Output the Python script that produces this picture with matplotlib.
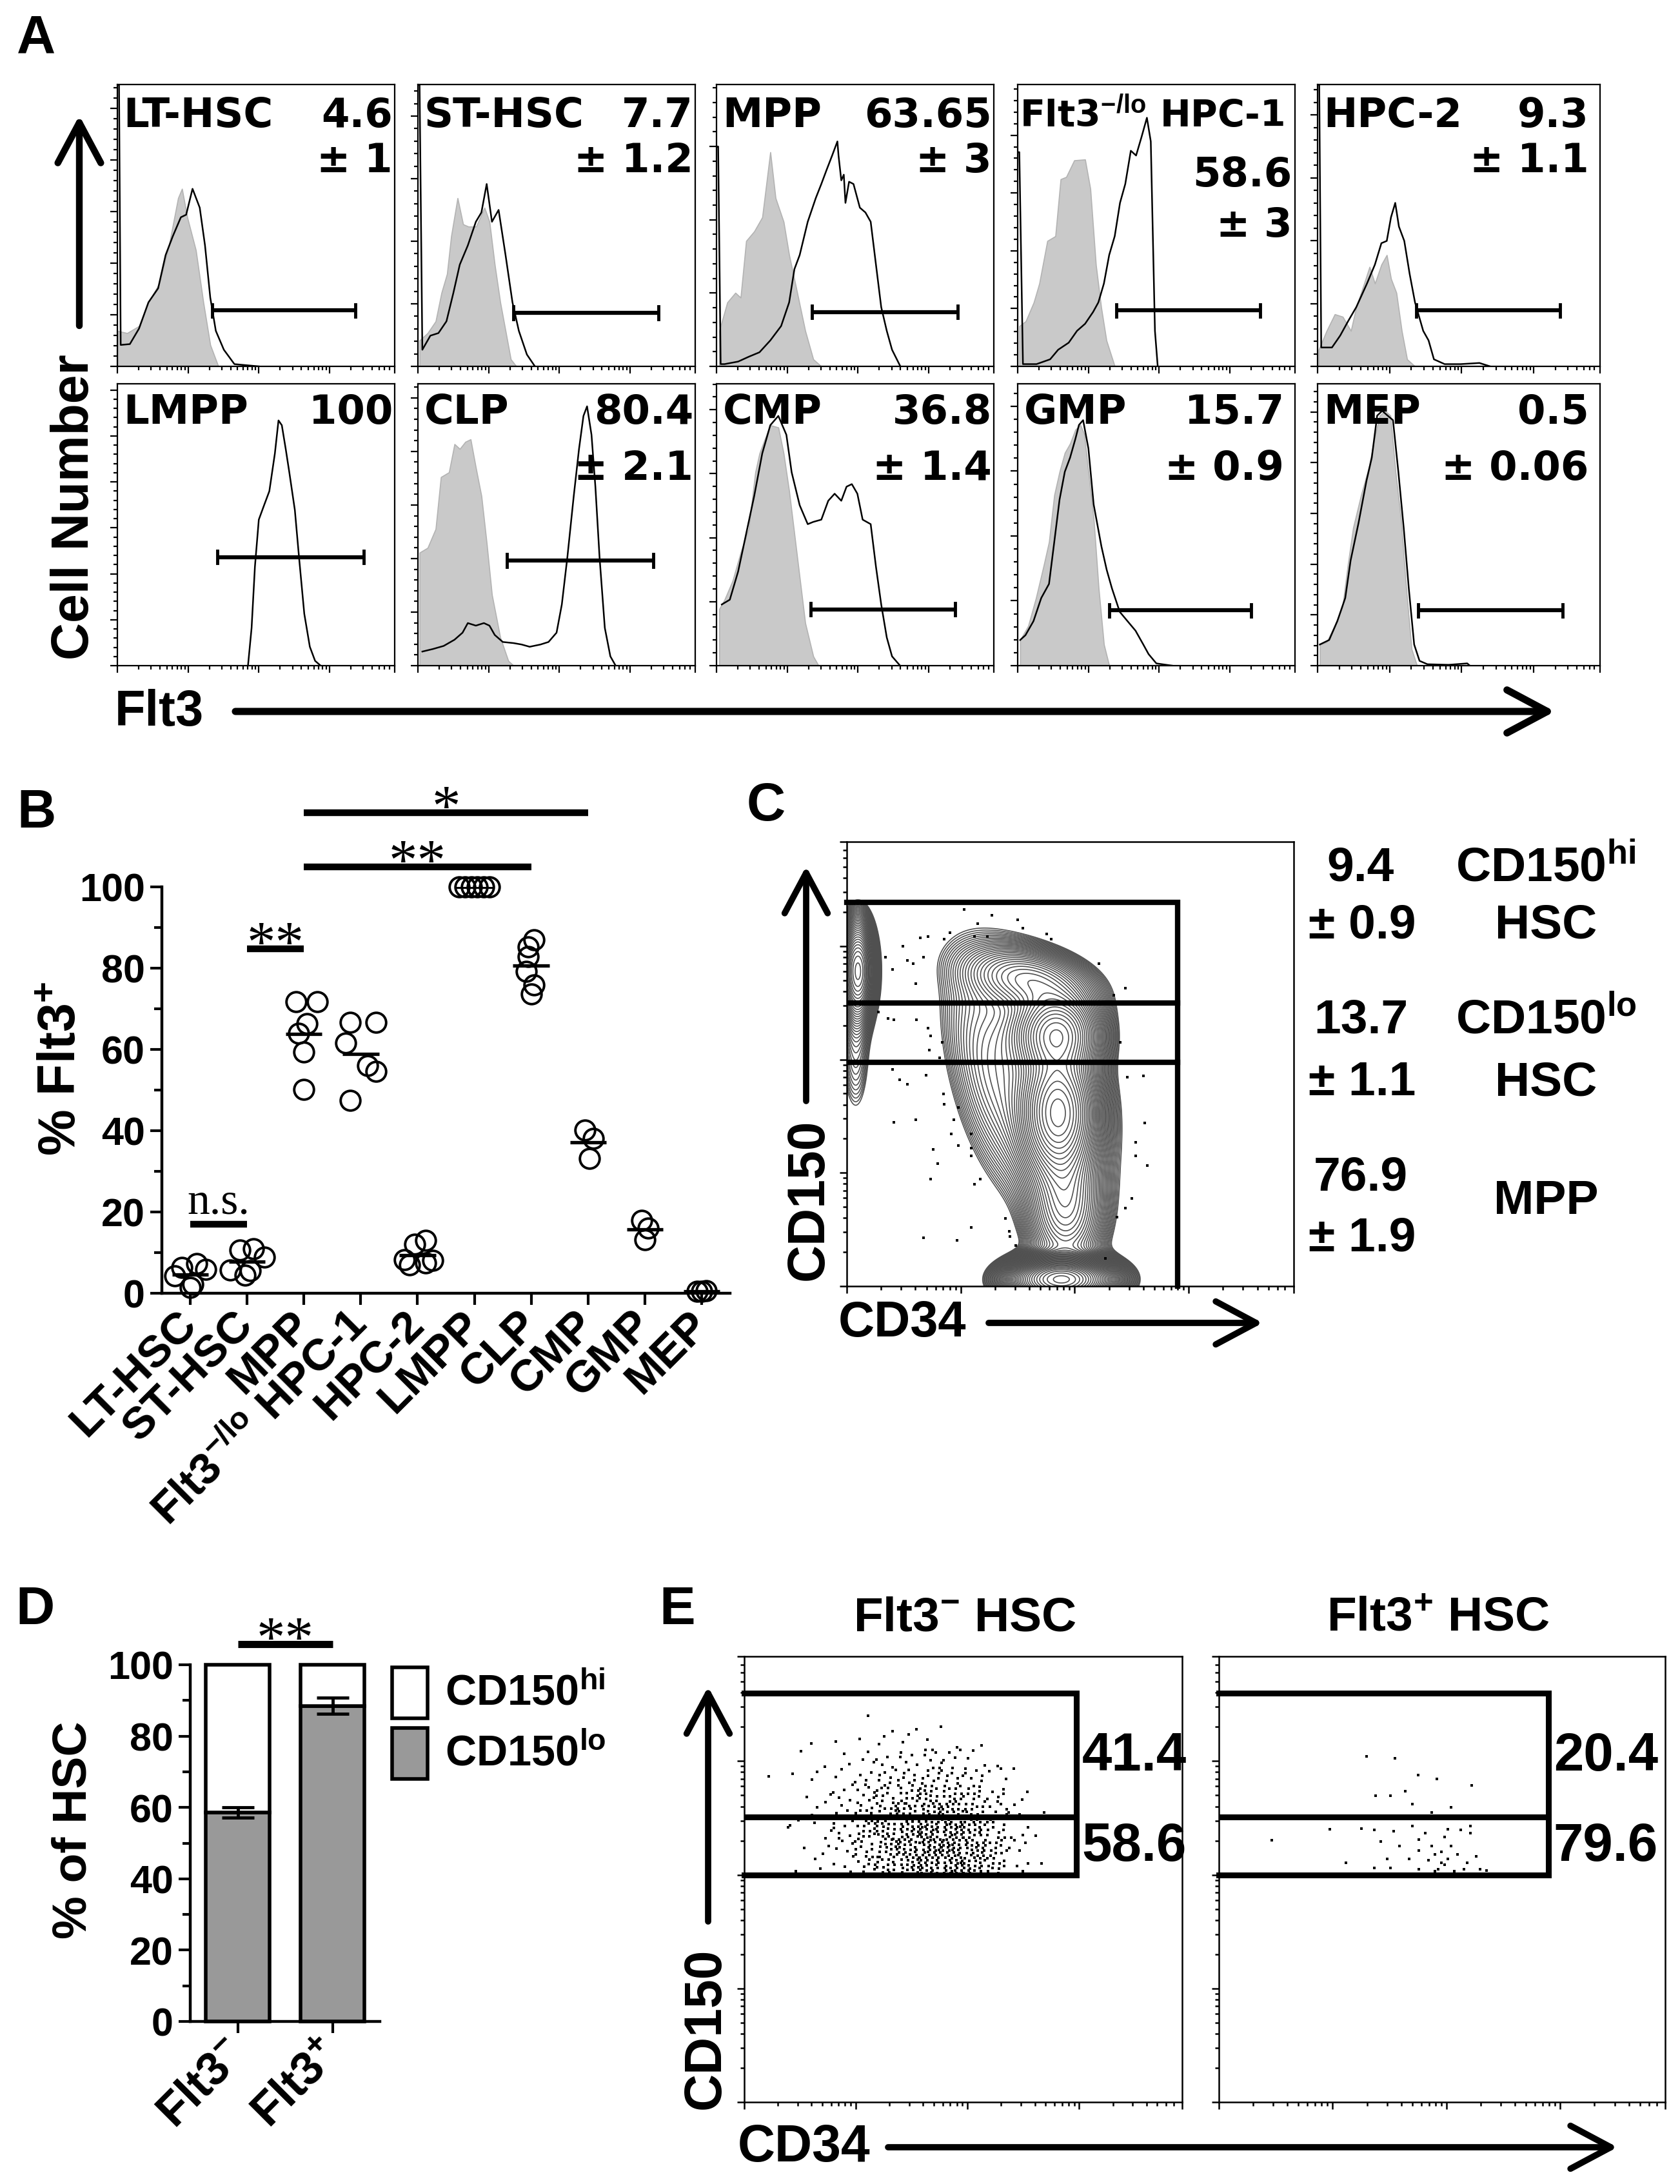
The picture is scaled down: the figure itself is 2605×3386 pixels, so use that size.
import numpy as np
import matplotlib
matplotlib.use("Agg")
import matplotlib.pyplot as plt
from matplotlib import font_manager
from matplotlib.patches import FancyArrowPatch, Rectangle

# ---------------- data ----------------
# Panel A: Flt3 histograms, x = channel position (% of scale), y = % of modal
a_names = ['LT-HSC', 'ST-HSC', 'MPP', 'Flt3$^{-/lo}$ HPC-1', 'HPC-2',
           'LMPP', 'CLP', 'CMP', 'GMP', 'MEP']
a_pct = ['4.6', '7.7', '63.65', '58.6', '9.3', '100', '80.4', '36.8', '15.7', '0.5']
a_sem = ['± 1', '± 1.2', '± 3', '± 3', '± 1.1', '', '± 2.1', '± 1.4', '± 0.9', '± 0.06']

lt_ctrl_x = [0, 3.5, 7.8, 11.2, 15.1, 18.6, 21.9, 23.3, 25.2, 28.3, 31.0, 33.5, 36.4]
lt_ctrl_y = [12.6, 11.8, 14.3, 22.7, 29.4, 42.9, 59.7, 63.0, 52.9, 41.2, 22.7, 7.6, 0]
lt_samp_x = [0.3, 0.6, 1.2, 4.5, 7.8, 11.2, 14.7, 17.4, 20.0, 22.9, 24.8, 27.1, 29.7,
             31.6, 33.5, 35.5, 38.4, 42.2, 51.0]
lt_samp_y = [100, 100, 7.6, 7.9, 13.4, 22.7, 27.7, 39.5, 46.2, 52.9, 53.8, 63.0, 56.3,
             42.9, 24.4, 12.6, 5.9, 0.8, 0]

st_ctrl_x = [0.6, 3.5, 6.4, 8.5, 10.5, 12.0, 14.3, 16.3, 18.2, 21.0, 24.0, 25.8, 27.7,
             29.7, 31.6, 33.5, 35.5]
st_ctrl_y = [9.2, 11.8, 16.0, 26.1, 32.8, 46.2, 59.7, 50.4, 49.6, 49.6, 56.3, 51.3, 36.1,
             22.7, 12.6, 2.5, 0]
st_samp_x = [0.3, 0.6, 1.6, 4.5, 7.4, 10.3, 12.8, 15.1, 18.0, 20.9, 22.9, 24.8, 26.7,
             29.1, 31.6, 34.1, 36.4, 39.3, 42.2]
st_samp_y = [100, 100, 5.9, 10.9, 11.8, 16.0, 26.1, 36.1, 42.9, 51.3, 54.6, 64.7, 51.3,
             55.5, 39.5, 22.7, 12.6, 4.2, 0]

mpp_ctrl_x = [1.0, 3.9, 6.8, 8.7, 10.7, 13.6, 16.5, 19.4, 21.3, 24.2, 26.2, 29.1, 32.0,
              34.9, 37.8]
mpp_ctrl_y = [12.6, 22.7, 26.1, 24.4, 44.5, 47.9, 52.9, 76.0, 59.7, 51.3, 39.5, 26.1,
              12.6, 2.5, 0]
mpp_samp_x = [0.3, 0.6, 1.5, 2.9, 7.8, 11.6, 15.5, 19.4, 23.3, 26.2, 28.1, 30.0, 32.9,
              35.8, 37.8, 39.7, 41.7, 43.6, 44.0, 45.0, 45.9, 46.5, 47.8, 49.4, 51.7,
              53.7, 55.6, 57.5, 59.4, 61.4, 63.3, 66.3]
mpp_samp_y = [78, 78, 0.8, 0.8, 1.7, 3.4, 5.0, 9.2, 14.3, 22.7, 34.5, 39.5, 51.3, 59.7,
              64.7, 69.7, 74.8, 79.8, 74.8, 66.0, 68.0, 58.0, 65.5, 64.7, 56.3, 54.6,
              51.3, 36.1, 21.0, 12.6, 5.9, 0]

hpc1_ctrl_x = [0.6, 2.9, 5.8, 7.8, 10.7, 13.6, 15.5, 17.5, 20.4, 24.3, 26.2, 28.2, 30.1,
               32.0, 35.0]
hpc1_ctrl_y = [14.3, 16.0, 22.7, 29.4, 44.5, 46.2, 66.4, 67.2, 73.1, 73.4, 63.0, 36.1,
               21.0, 9.2, 0]
hpc1_samp_x = [0.3, 0.6, 1.9, 6.8, 11.7, 14.6, 18.4, 21.4, 24.3, 27.2, 29.1, 31.1, 33.0,
               35.0, 36.9, 38.8, 40.8, 42.7, 44.7, 46.6, 48.0, 49.5, 50.5]
hpc1_samp_y = [76, 76, 0.8, 0.8, 2.5, 5.9, 8.4, 12.6, 15.1, 19.3, 22.7, 29.4, 39.5, 46.2,
               58.0, 64.7, 76.5, 74.8, 81.5, 88.2, 79.8, 12.6, 0]

hpc2_ctrl_x = [0.4, 3.2, 6.1, 8.9, 11.8, 13.7, 16.5, 18.4, 20.3, 22.6, 24.5, 26.0, 27.9,
               29.8, 31.7, 34.5]
hpc2_ctrl_y = [5.9, 12.6, 18.5, 17.6, 12.6, 21.0, 29.4, 35.3, 29.4, 36.1, 39.5, 31.1,
               26.1, 12.6, 2.5, 0]
hpc2_samp_x = [0.3, 0.6, 1.3, 5.1, 8.0, 10.8, 13.7, 17.5, 20.3, 22.6, 24.5, 26.0, 27.5,
               28.8, 30.7, 32.6, 34.5, 37.4, 39.3, 41.2, 45.0, 50.7, 57.3, 61.1]
hpc2_samp_y = [100, 100, 6.7, 6.7, 10.9, 16.0, 21.0, 29.4, 36.1, 43.7, 44.5, 52.9, 58.0,
               49.6, 44.5, 32.8, 22.7, 12.6, 9.2, 2.5, 0.8, 0.8, 1.2, 0]

lmpp_samp_x = [47.1, 48.4, 49.6, 51.0, 52.9, 54.8, 56.8, 58.1, 59.3, 60.7, 62.0, 64.0,
               65.5, 67.4, 69.4, 71.3, 73.3]
lmpp_samp_y = [0, 13.4, 35.1, 51.8, 56.9, 61.9, 75.3, 87.0, 85.3, 76.9, 68.6, 55.2,
               38.5, 18.4, 6.7, 1.7, 0]

clp_ctrl_x = [0.6, 3.5, 6.4, 8.3, 11.2, 13.2, 15.1, 17.1, 19.0, 20.9, 22.9, 24.8, 26.7,
              29.7, 32.6, 34.5]
clp_ctrl_y = [40.1, 41.8, 48.5, 66.9, 68.6, 78.6, 76.9, 79.4, 80.3, 70.2, 60.2, 43.5,
              25.1, 10.0, 1.7, 0]
clp_samp_x = [1.6, 5.4, 9.3, 13.2, 16.1, 18.0, 20.9, 23.8, 25.8, 27.7, 30.6, 34.5, 37.4,
              40.3, 44.2, 47.1, 50.0, 51.9, 53.9, 56.2, 58.1, 59.7, 61.0, 62.6, 64.0,
              65.5, 67.4, 69.4, 71.3]
clp_samp_y = [5.0, 5.9, 7.0, 9.2, 11.7, 15.1, 14.2, 15.1, 14.2, 10.9, 8.4, 8.0, 7.5, 6.7,
              7.5, 8.4, 11.7, 21.7, 38.5, 60.2, 76.9, 88.6, 92.0, 81.9, 63.5, 38.5,
              13.4, 3.3, 0]

cmp_ctrl_x = [1.0, 2.9, 5.8, 8.7, 11.6, 14.0, 15.5, 17.4, 19.4, 22.3, 24.2, 26.2, 29.1,
              32.0, 34.9, 36.8]
cmp_ctrl_y = [20.1, 23.4, 30.1, 40.1, 48.5, 68.6, 75.3, 80.3, 85.3, 84.5, 75.3, 61.9,
              38.5, 15.1, 3.3, 0]
cmp_samp_x = [1.9, 4.8, 7.8, 10.7, 13.6, 16.5, 19.4, 22.3, 25.2, 27.1, 30.0, 32.9, 34.9,
              37.8, 40.3, 42.6, 45.0, 46.9, 48.8, 50.8, 52.7, 55.6, 57.5, 59.4, 61.4,
              63.3, 66.2]
cmp_samp_y = [21.7, 23.4, 33.4, 46.8, 60.2, 75.3, 85.3, 88.6, 81.9, 68.6, 56.9, 50.2,
              51.0, 51.8, 58.5, 61.0, 58.5, 63.5, 64.4, 61.0, 51.8, 50.2, 35.1, 21.7,
              10.0, 3.3, 0]

gmp_ctrl_x = [0.9, 3.8, 6.6, 9.4, 11.3, 13.2, 15.1, 17.0, 18.9, 20.8, 22.6, 24.0, 25.5,
              27.4, 29.2, 31.1, 33.0]
gmp_ctrl_y = [9.1, 14.1, 24.0, 35.6, 43.9, 60.5, 68.8, 75.5, 78.8, 83.7, 85.4, 82.1,
              68.8, 52.2, 27.4, 7.5, 0]
gmp_samp_x = [0.9, 2.8, 5.7, 8.5, 11.3, 13.2, 15.1, 17.0, 18.9, 20.8, 22.1, 23.6, 25.5,
              27.4, 30.2, 32.1, 34.0, 36.8, 39.6, 42.5, 45.3, 47.2, 50.0, 55.7]
gmp_samp_y = [9.1, 10.8, 15.8, 24.0, 29.0, 43.9, 58.9, 68.8, 73.8, 80.4, 85.4, 87.1,
              77.1, 57.2, 42.3, 34.0, 27.4, 19.1, 15.8, 12.4, 7.5, 4.1, 0.8, 0]

mep_ctrl_x = [0.8, 3.2, 6.0, 8.8, 10.7, 12.6, 15.4, 18.2, 20.1, 22.0, 23.9, 25.8, 27.6,
              29.5, 31.4, 33.3, 35.2]
mep_ctrl_y = [7.5, 8.3, 14.1, 20.7, 35.6, 48.9, 60.5, 70.5, 80.4, 88.7, 90.4, 88.7,
              68.8, 52.2, 27.4, 5.8, 0]
mep_samp_x = [0.8, 4.1, 7.0, 9.8, 11.7, 14.5, 17.3, 19.2, 21.1, 22.9, 24.8, 26.7, 28.6,
              30.5, 32.3, 34.2, 36.1, 38.9, 46.4, 53.0, 53.9]
mep_samp_y = [7.5, 9.1, 15.8, 24.0, 37.3, 50.6, 65.5, 73.8, 88.7, 90.4, 88.7, 87.1,
              68.8, 48.9, 27.4, 7.5, 1.7, 0.5, 0.3, 0.8, 0]

a_ctrl_x = [lt_ctrl_x, st_ctrl_x, mpp_ctrl_x, hpc1_ctrl_x, hpc2_ctrl_x,
            None, clp_ctrl_x, cmp_ctrl_x, gmp_ctrl_x, mep_ctrl_x]
a_ctrl_y = [lt_ctrl_y, st_ctrl_y, mpp_ctrl_y, hpc1_ctrl_y, hpc2_ctrl_y,
            None, clp_ctrl_y, cmp_ctrl_y, gmp_ctrl_y, mep_ctrl_y]
a_samp_x = [lt_samp_x, st_samp_x, mpp_samp_x, hpc1_samp_x, hpc2_samp_x,
            lmpp_samp_x, clp_samp_x, cmp_samp_x, gmp_samp_x, mep_samp_x]
a_samp_y = [lt_samp_y, st_samp_y, mpp_samp_y, hpc1_samp_y, hpc2_samp_y,
            lmpp_samp_y, clp_samp_y, cmp_samp_y, gmp_samp_y, mep_samp_y]

# Flt3+ gate (marker) per histogram
a_gate_lo = [34.1, 34.5, 34.5, 35.5, 34.9, 36.0, 32.0, 33.9, 33.0, 35.7]
a_gate_hi = [85.9, 86.8, 86.9, 87.4, 85.8, 88.8, 84.9, 86.0, 84.3, 86.8]
a_gate_y = [19.8, 19.0, 19.3, 19.8, 19.8, 38.5, 37.3, 20.0, 19.6, 19.6]
a_ystep = [18.3, 22.2, 26.0, 20.5, 22.3, 16.3, 19.0, 22.7, 23.0, 18.0]

# Panel B: % Flt3+ per population (individual mice)
b_cats = ['LT-HSC', 'ST-HSC', 'MPP', 'Flt3$^{-/lo}$ HPC-1', 'HPC-2',
          'LMPP', 'CLP', 'CMP', 'GMP', 'MEP']
b_vals = [
    [4.3, 6.4, 1.5, 7.3, 5.9, 2.2],
    [5.7, 10.6, 4.5, 11.0, 8.9, 5.5],
    [71.7, 71.7, 66.3, 63.9, 59.3, 50.2],
    [66.6, 66.6, 61.6, 56.1, 54.6, 47.4],
    [8.2, 12.0, 7.5, 8.1, 13.0, 7.0],
    [100, 100, 100, 100, 100, 100],
    [87.0, 85.3, 82.8, 79.2, 75.8, 73.6],
    [40.1, 38.1, 33.2],
    [18.0, 16.0, 13.2],
    [0.4, 0.5, 0.6],
]
b_jitter = [
    [-0.27, -0.15, 0.0, 0.11, 0.27, 0.04],
    [-0.30, -0.13, -0.04, 0.11, 0.30, 0.05],
    [-0.14, 0.24, 0.05, -0.09, 0.0, 0.0],
    [-0.18, 0.27, -0.27, 0.12, 0.27, -0.18],
    [-0.23, -0.05, 0.14, 0.27, 0.14, -0.14],
    [-0.27, -0.16, -0.05, 0.05, 0.16, 0.27],
    [0.05, -0.05, -0.05, -0.09, 0.05, 0.0],
    [-0.05, 0.09, 0.03],
    [-0.05, 0.06, 0.0],
    [-0.08, 0.0, 0.08],
]
b_sig_from = [0, 1, 2, 2]
b_sig_to = [1, 2, 6, 7]
b_sig_y = [17.0, 84.8, 104.9, 118.3]
b_sig_text = ['n.s.', '**', '**', '*']

# Panel C: CD150 vs CD34 of LSK cells; populations read as (centre, spread, weight)
c_pop_x = [47.3, 47.0, 41.0, 42.0, 33.0, 49.0, 48.0, 2.5, 2.0]
c_pop_y = [39.0, 57.0, 69.0, 50.0, 45.0, 18.0, 1.5, 71.0, 55.0]
c_pop_sx = [4.5, 5.0, 7.5, 10.0, 6.0, 4.5, 5.6, 2.0, 2.0]
c_pop_sy = [8.0, 5.0, 4.0, 16.0, 14.0, 8.0, 2.5, 6.0, 10.0]
c_pop_w = [1.0, 0.7, 0.25, 0.08, 0.08, 0.3, 2.5, 0.6, 0.05]
c_pop_rho = [0.0, 0.0, -0.3, -0.55, -0.5, 0.0, 0.0, 0.0, 0.0]
c_dots_x = [26.2, 32.4, 29.3, 23.1, 16.4, 18.2, 28.5, 31.4, 21.8, 12.6, 8.7, 10.2, 13.6,
            14.9, 17.2, 38.3, 39.4, 44.7, 45.8, 56.4, 62.3, 59.7, 15.4, 7.1, 9.2, 10.5,
            15.6, 18.2, 18.7, 21.3, 18.5, 20.8, 10.2, 11.8, 13.6, 17.7, 21.6, 21.8, 24.9,
            23.9, 10.5, 15.4, 23.4, 27.8, 24.9, 27.8, 27.8, 19.3, 20.3, 18.7, 28.5, 29.8,
            61.2, 62.8, 66.4, 66.7, 64.6, 64.6, 67.2, 63.8, 62.3, 60.5, 57.9, 35.5, 36.3,
            36.5, 37.8, 27.8, 24.7, 17.2]
c_dots_y = [84.7, 83.5, 81.5, 79.5, 78.4, 78.7, 78.7, 78.7, 78.1, 76.5, 74.0, 71.3, 73.3,
            72.5, 74.0, 82.4, 80.6, 79.2, 78.1, 72.6, 67.0, 65.4, 68.0, 61.7, 60.3, 59.9,
            60.0, 58.0, 56.3, 54.8, 53.1, 51.4, 48.8, 46.5, 45.4, 47.4, 43.3, 41.0, 40.2,
            37.4, 36.8, 37.4, 34.2, 34.2, 31.6, 31.0, 29.3, 30.7, 27.6, 24.1, 23.0, 24.1,
            54.8, 47.0, 47.3, 36.7, 32.4, 29.3, 27.2, 19.8, 17.5, 15.5, 6.3, 15.2, 12.4,
            11.2, 9.2, 13.2, 10.3, 10.9]
c_gate_x = 74.0
c_gate_y = [86.4, 63.7, 50.4]
c_pct = ['9.4', '13.7', '76.9']
c_sem = ['± 0.9', '± 1.1', '± 1.9']

# Panel D: CD150 hi/lo fraction of Flt3- and Flt3+ HSC
d_groups = ['Flt3$^{-}$', 'Flt3$^{+}$']
d_lo = [58.6, 88.5]
d_lo_err = [1.4, 2.2]
d_series = ['CD150$^{hi}$', 'CD150$^{lo}$']

# Panel E: dot plots; Flt3- HSC as event counts per (CD150 row, CD34 column) bin
e_x_edges = [5, 10, 15, 20, 25, 30, 35, 40, 45, 50, 55, 60, 65, 70]
e_y_edges = [51, 55, 59, 63, 67, 71, 75, 79, 83, 87]
e_neg_counts = [
    [0, 1, 2, 4, 8, 14, 18, 22, 24, 20, 12, 4, 1],
    [0, 1, 2, 5, 10, 16, 20, 25, 26, 20, 12, 4, 0],
    [1, 1, 3, 6, 12, 16, 20, 24, 24, 18, 10, 3, 1],
    [0, 1, 3, 6, 10, 13, 16, 18, 18, 14, 8, 3, 1],
    [0, 1, 2, 4, 7, 10, 12, 14, 13, 10, 6, 2, 0],
    [1, 1, 2, 3, 5, 7, 8, 9, 8, 6, 3, 1, 0],
    [0, 1, 1, 2, 3, 4, 5, 5, 4, 3, 1, 0, 0],
    [0, 0, 1, 1, 1, 2, 2, 2, 1, 1, 0, 0, 0],
    [0, 0, 0, 0, 1, 1, 1, 1, 0, 0, 0, 0, 0],
]
e_pos_x = [33.1, 39.4, 44.6, 48.9, 56.6, 35.1, 38.4, 41.7, 43.4, 47.7, 52.0, 24.8, 11.9,
           31.9, 34.8, 39.1, 43.4, 46.3, 50.6, 54.2, 56.3, 56.3, 36.2, 40.5, 44.8, 48.4,
           49.9, 51.3, 53.4, 57.7, 28.4, 34.8, 38.4, 44.8, 49.1, 50.6, 54.9, 58.5, 59.9,
           47.0, 42.7, 37.7, 52.0, 55.6, 49.9, 48.4, 52.7, 44.8, 47.7, 51.3]
e_pos_y = [77.5, 77.2, 73.4, 72.5, 71.1, 68.7, 68.7, 69.7, 66.9, 65.0, 66.1, 61.2, 58.7,
           61.4, 61.0, 60.8, 62.0, 60.3, 59.5, 61.0, 62.0, 60.3, 58.4, 57.5, 56.5, 55.6,
           56.1, 54.6, 55.6, 55.1, 53.7, 52.6, 52.6, 52.3, 52.3, 53.2, 52.3, 52.3, 52.0,
           54.2, 54.6, 54.6, 57.5, 53.7, 53.7, 51.8, 51.8, 58.9, 57.5, 61.2]
e_gate_x = [75.9, 73.8]
e_gate_y = [91.8, 64.0, 50.9]
e_titles = ['Flt3$^{-}$ HSC', 'Flt3$^{+}$ HSC']
e_pct_hi = ['41.4', '20.4']
e_pct_lo = ['58.6', '79.6']

# ---------------- style ----------------
names = {f.name for f in font_manager.fontManager.ttflist}
SANS = 'Liberation Sans' if 'Liberation Sans' in names else 'DejaVu Sans'
SERIF = 'Liberation Serif' if 'Liberation Serif' in names else 'DejaVu Serif'
plt.rcParams['font.family'] = [SANS, 'DejaVu Sans']
plt.rcParams['font.weight'] = 'bold'
plt.rcParams['mathtext.fontset'] = 'custom'
plt.rcParams['mathtext.rm'] = SANS + ':bold'
plt.rcParams['mathtext.bf'] = SANS + ':bold'
plt.rcParams['mathtext.it'] = SANS + ':bold'
plt.rcParams['mathtext.default'] = 'bf'

W, H = 2605, 3387
fig = plt.figure(figsize=(W / 100, H / 100), dpi=100)


def add_ax(x0, y0, x1, y1):
    return fig.add_axes([x0 / W, 1 - y1 / H, (x1 - x0) / W, (y1 - y0) / H])


def ftext(x, y, s, **kw):
    return fig.text(x / W, 1 - y / H, s, **kw)


def farrow(x0, y0, x1, y1, lw=7):
    fig.add_artist(FancyArrowPatch((x0 / W, 1 - y0 / H), (x1 / W, 1 - y1 / H),
                                   transform=fig.transFigure,
                                   arrowstyle='->,head_length=0.75,head_width=0.4',
                                   mutation_scale=60, lw=lw, color='black',
                                   shrinkA=0, shrinkB=0))


LOG_MAJ = [0, 25.5, 51, 76.5, 100]
LOG_MIN = [d * 25.5 + 25.5 * np.log10(m) for d in range(4) for m in range(2, 10)]
LOG_MIN = [v for v in LOG_MIN if v < 99.5]


def flow_axes(ax, ystep=None, lw=1.6):
    ax.set_xlim(0, 100)
    ax.set_ylim(0, 100)
    ax.set_xticks(LOG_MAJ)
    ax.set_xticks(LOG_MIN, minor=True)
    if ystep is None:
        ax.set_yticks(LOG_MAJ)
        ax.set_yticks(LOG_MIN, minor=True)
    else:
        ax.set_yticks(np.arange(0, 100.01, ystep))
        ax.set_yticks(np.arange(0, 100.01, ystep / 5), minor=True)
    ax.tick_params(which='both', direction='out', labelleft=False, labelbottom=False,
                   width=lw, top=False, right=False)
    ax.tick_params(which='major', length=8)
    ax.tick_params(which='minor', length=4)
    for s in ax.spines.values():
        s.set_linewidth(lw)


# ---------------- A ----------------
col_x = [182, 648, 1111, 1578, 2043]
col_w = [430, 430, 430, 430, 438]
row_y = [132, 596]
row_h = 437
AFONT = dict(family='DejaVu Sans', fontweight='bold', fontsize=45)

for i in range(10):
    r, c = divmod(i, 5)
    ax = add_ax(col_x[c], row_y[r], col_x[c] + col_w[c], row_y[r] + row_h)
    flow_axes(ax, ystep=a_ystep[i])
    if a_ctrl_x[i] is not None:
        ax.fill_between(a_ctrl_x[i], 0, a_ctrl_y[i], color='#c9c9c9',
                        edgecolor='#b3b3b3', lw=1.2, zorder=1)
    ax.plot(a_samp_x[i], a_samp_y[i], color='black', lw=1.8, zorder=2)
    gy = a_gate_y[i]
    ax.plot([a_gate_lo[i], a_gate_hi[i]], [gy, gy], color='black', lw=4.5,
            solid_capstyle='butt', zorder=3)
    for gx in (a_gate_lo[i], a_gate_hi[i]):
        ax.plot([gx, gx], [gy - 2.2, gy + 2.2], color='black', lw=3.5, zorder=3)
    ytop = 89 if r == 0 else 90
    if i == 3:
        ax.text(0.8, ytop, a_names[i], ha='left', va='center',
                **dict(AFONT, fontsize=41))
        ax.text(99, 68, a_pct[i], ha='right', va='center', **AFONT)
        ax.text(99, 50, a_sem[i], ha='right', va='center', **AFONT)
    else:
        ax.text(2.2, ytop, a_names[i], ha='left', va='center', **AFONT)
        xr = 96 if i in (4, 8, 9) else 99.3
        ax.text(xr, ytop, a_pct[i], ha='right', va='center', **AFONT)
        if a_sem[i]:
            ax.text(xr, 73 if r == 0 else 70, a_sem[i], ha='right', va='center', **AFONT)

ftext(56, 61, 'A', fontsize=60, ha='center', va='center')
ftext(116, 786, 'Cell Number', fontsize=58, rotation=90, ha='center', va='center')
farrow(123, 506, 123, 180, lw=7.5)
ftext(178, 1104, 'Flt3', fontsize=56, ha='left', va='center')
farrow(365, 1104, 2411, 1104, lw=8)

# ---------------- B ----------------
axB = add_ax(251, 1376, 1132, 2006)
axB.set_xlim(-0.5, 9.5)
axB.set_ylim(0, 100)
for i, (vals, jit) in enumerate(zip(b_vals, b_jitter)):
    axB.plot(i + np.array(jit), vals, 'o', mfc='none', mec='black', ms=22, mew=2.8,
             clip_on=False, zorder=3)
    m = np.mean(vals)
    axB.plot([i - 0.32, i + 0.32], [m, m], color='black', lw=3.8, zorder=4,
             solid_capstyle='butt')
for f, t, y, s in zip(b_sig_from, b_sig_to, b_sig_y, b_sig_text):
    axB.plot([f, t], [y, y], color='black', lw=7.5, clip_on=False, solid_capstyle='butt')
    if s == 'n.s.':
        axB.text((f + t) / 2, y + 2.8, s, ha='center', va='baseline', family=SERIF,
                 fontweight='normal', fontsize=50, clip_on=False)
    else:
        axB.text((f + t) / 2, y - 2.7, s, ha='center', va='baseline', family=SERIF,
                 fontweight='normal', fontsize=64, clip_on=False)
axB.spines['top'].set_visible(False)
axB.spines['right'].set_visible(False)
axB.spines['left'].set_linewidth(3.2)
axB.spines['bottom'].set_linewidth(3.2)
axB.set_yticks([0, 20, 40, 60, 80, 100])
axB.set_yticks(np.arange(10, 100, 20), minor=True)
axB.set_xticks(range(10))
axB.set_xticklabels(b_cats, rotation=45, ha='right', va='center', rotation_mode='anchor')
axB.tick_params(axis='both', which='major', length=13, width=3, labelsize=44, pad=6)
axB.tick_params(axis='y', which='minor', length=9, width=3)
axB.tick_params(axis='x', pad=14, labelsize=50)
ftext(56, 1261, 'B', fontsize=60, ha='center', va='center')
ftext(96, 1657, '% Flt3$^{+}$', fontsize=58, rotation=90, ha='center', va='center')

# ---------------- C ----------------
axC = add_ax(1313, 1306, 2006, 1995)
gx, gy = np.meshgrid(np.linspace(0, 100, 500), np.linspace(0, 100, 500))
dens = np.zeros_like(gx)
for mx, my, sx, sy, w, rho in zip(c_pop_x, c_pop_y, c_pop_sx, c_pop_sy, c_pop_w, c_pop_rho):
    dx = (gx - mx) / sx
    dy = (gy - my) / sy
    dens += w * np.exp(-(dx * dx - 2 * rho * dx * dy + dy * dy) / (2 * (1 - rho ** 2)))
levels = np.geomspace(0.018, dens.max() * 0.95, 46)
axC.contour(gx, gy, dens, levels=levels, colors='#505050', linewidths=1.2)
axC.plot(c_dots_x, c_dots_y, 's', ms=2.6, color='black', mew=0)
axC.plot([0, c_gate_x, c_gate_x], [c_gate_y[0], c_gate_y[0], 0], color='black',
         lw=6, clip_on=False, solid_joinstyle='miter')
for yv in c_gate_y[1:]:
    axC.plot([0, c_gate_x], [yv, yv], color='black', lw=6)
flow_axes(axC, lw=1.8)
ftext(1188, 1250, 'C', fontsize=60, ha='center', va='center')
ftext(1255, 1860, 'CD150', fontsize=58, rotation=90, ha='center', va='center')
farrow(1250, 1708, 1250, 1344)
ftext(1300, 2052, 'CD34', fontsize=56, ha='left', va='center')
farrow(1533, 2052, 1958, 2052)
c_text_y = [(1346, 1435), (1582, 1679), (1826, 1920)]
c_names = [('CD150$^{hi}$', 'HSC'), ('CD150$^{lo}$', 'HSC'), ('MPP', None)]
for (y1, y2), p, s, (n1, n2) in zip(c_text_y, c_pct, c_sem, c_names):
    ftext(2110, y1, p, fontsize=54, ha='center', va='center')
    ftext(2112, y2, s, fontsize=54, ha='center', va='center')
    if n2 is None:
        ftext(2397, (y1 + y2) / 2 - 10, n1, fontsize=54, ha='center', va='center')
    else:
        ftext(2397, y1, n1, fontsize=54, ha='center', va='center')
        ftext(2397, y2, n2, fontsize=54, ha='center', va='center')

# ---------------- D ----------------
axD = add_ax(295, 2582, 589, 3135)
xd = np.arange(len(d_groups))
d_hi = [100 - v for v in d_lo]
axD.bar(xd, d_lo, width=0.67, color='#999999', edgecolor='black', lw=4, clip_on=False)
axD.bar(xd, d_hi, bottom=d_lo, width=0.67, color='white', edgecolor='black', lw=4,
        clip_on=False)
axD.errorbar(xd, d_lo, yerr=d_lo_err, fmt='none', ecolor='black', elinewidth=3.5,
             capsize=18, capthick=3.5)
axD.set_xlim(-0.5, 1.5)
axD.set_ylim(0, 100)
axD.spines['top'].set_visible(False)
axD.spines['right'].set_visible(False)
axD.spines['left'].set_linewidth(3.2)
axD.spines['bottom'].set_linewidth(3.2)
axD.set_yticks([0, 20, 40, 60, 80, 100])
axD.set_yticks(np.arange(10, 100, 20), minor=True)
axD.set_xticks(xd)
axD.set_xticklabels(d_groups, rotation=45, ha='right', va='center', rotation_mode='anchor')
axD.tick_params(axis='both', which='major', length=13, width=3, labelsize=44, pad=6)
axD.tick_params(axis='y', which='minor', length=9, width=3)
axD.tick_params(axis='x', labelsize=52, pad=16)
axD.plot([0, 1], [105.8, 105.8], color='black', lw=8, clip_on=False,
         solid_capstyle='butt')
axD.text(0.5, 102.7, '**', ha='center', va='baseline', family=SERIF,
         fontweight='normal', fontsize=64, clip_on=False)
ftext(54, 2496, 'D', fontsize=60, ha='center', va='center')
ftext(114, 2837, '% of HSC', fontsize=54, rotation=90, ha='center', va='center')
for (y0, y1), col, lab in zip([(2586, 2665), (2680, 2759)], ['white', '#999999'], d_series):
    fig.add_artist(Rectangle((608 / W, 1 - y1 / H), 55 / W, (y1 - y0) / H,
                             transform=fig.transFigure, facecolor=col,
                             edgecolor='black', lw=4))
    ftext(690, (y0 + y1) / 2, lab, fontsize=48, ha='left', va='center')

# ---------------- E ----------------
e_boxes = [(1154, 2569, 1833, 3260), (1890, 2569, 2582, 3260)]
e_centers = [1496, 2230]
for k, (x0, y0, x1, y1) in enumerate(e_boxes):
    ax = add_ax(x0, y0, x1, y1)
    if k == 0:
        px, py = [], []
        for r, row in enumerate(e_neg_counts):
            for c, n in enumerate(row):
                for j in range(n):
                    u = (0.5 + (j + 1) * 0.7548776662 + 0.37 * r + 0.11 * c) % 1.0
                    v = (0.5 + (j + 1) * 0.5698402910 + 0.13 * c + 0.29 * r) % 1.0
                    px.append(e_x_edges[c] + u * (e_x_edges[c + 1] - e_x_edges[c]))
                    py.append(e_y_edges[r] + v * (e_y_edges[r + 1] - e_y_edges[r]))
        ax.plot(px, py, 's', ms=2.4, color='black', mew=0)
    else:
        ax.plot(e_pos_x, e_pos_y, 's', ms=2.4, color='black', mew=0)
    gxv = e_gate_x[k]
    ax.plot([0, gxv, gxv, 0], [e_gate_y[0], e_gate_y[0], e_gate_y[2], e_gate_y[2]],
            color='black', lw=6.5, solid_joinstyle='miter', clip_on=False)
    ax.plot([0, gxv], [e_gate_y[1], e_gate_y[1]], color='black', lw=6.5)
    flow_axes(ax, lw=1.8)
    ftext(e_centers[k], 2509, e_titles[k], fontsize=54, ha='center', va='center')
    xt = x0 + (x1 - x0) * gxv / 100 + 8
    ftext(xt, 2723, e_pct_hi[k], fontsize=60, ha='left', va='center')
    ftext(xt, 2863, e_pct_lo[k], fontsize=60, ha='left', va='center')

ftext(1050, 2496, 'E', fontsize=60, ha='center', va='center')
ftext(1095, 3145, 'CD150', fontsize=58, rotation=90, ha='center', va='center')
farrow(1098, 2980, 1098, 2616)
ftext(1144, 3330, 'CD34', fontsize=58, ha='left', va='center')
farrow(1377, 3330, 2508, 3330)

fig.savefig('out.png', dpi=100)
